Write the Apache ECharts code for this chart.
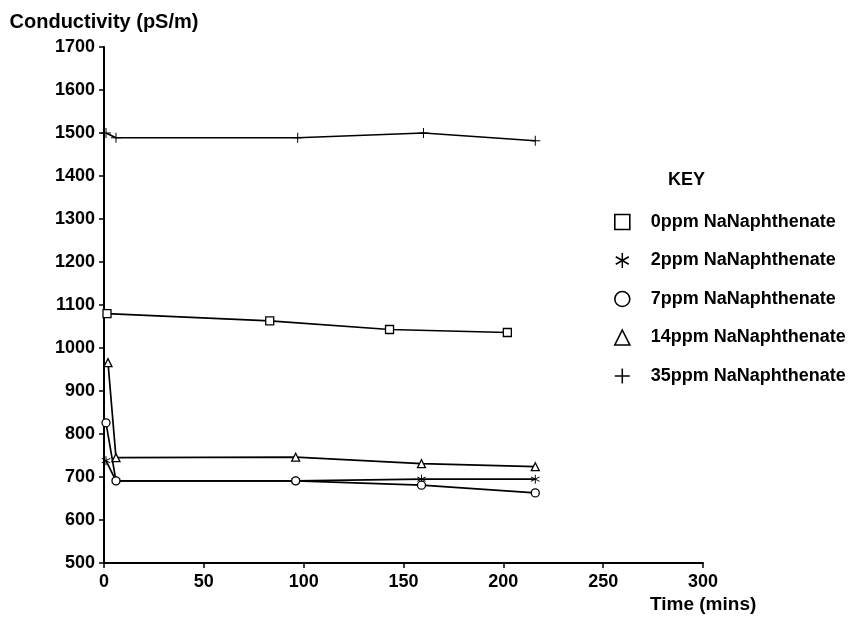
<!DOCTYPE html>
<html>
<head>
<meta charset="utf-8">
<style>
  html, body { margin: 0; padding: 0; background: #fff; }
  #chart { width: 853px; height: 622px; }
</style>
<script src="https://cdn.jsdelivr.net/npm/echarts@6/dist/echarts.min.js"></script>
</head>
<body>
<div id="chart"></div>
<script>
// 数据: 时间 (mins) 与电导率 (pS/m)
const seriesNames = [
  '0ppm NaNaphthenate',
  '2ppm NaNaphthenate',
  '7ppm NaNaphthenate',
  '14ppm NaNaphthenate',
  '35ppm NaNaphthenate'
];
const time0 = [1.5, 83, 143, 202];
const cond0 = [1080, 1063, 1043, 1036];
const time2 = [1, 6, 96, 159, 216];
const cond2 = [738, 691, 691, 695, 695];
const time7 = [1, 6, 96, 159, 216];
const cond7 = [826, 691, 691, 681, 663];
const time14 = [2, 6, 96, 159, 216];
const cond14 = [966, 745, 746, 731, 724];
const time35 = [1, 6, 97, 160, 216];
const cond35 = [1500, 1489, 1489, 1500, 1482];

const FONT = "'Liberation Sans', Arial, sans-serif";

// 符号: 星号和加号用填充路径画
const ASTERISK = 'path://M9,0H11V20H9Z' +
  'M1.8,4.13L19.2,14.13L18.2,15.87L0.8,5.87Z' +
  'M0.8,14.13L18.2,4.13L19.2,5.87L1.8,15.87Z';
const PLUS = 'path://M9,0H11V9H20V11H11V20H9V11H0V9H9Z';

const symbols = ['rect', ASTERISK, 'circle', 'triangle', PLUS];
const hollow = [true, false, true, true, false];
const markSize = [8, 9, 8, 8, 10];

function zip(xs, ys) {
  return xs.map((x, i) => [x, ys[i]]);
}
const allData = [
  zip(time0, cond0),
  zip(time2, cond2),
  zip(time7, cond7),
  zip(time14, cond14),
  zip(time35, cond35)
];

function markStyle(i) {
  return hollow[i]
    ? { color: '#fff', borderColor: '#000', borderWidth: 1.3 }
    : { color: '#000', borderWidth: 0 };
}

const chart = echarts.init(document.getElementById('chart'));

chart.setOption({
  animation: false,
  backgroundColor: '#fff',
  textStyle: { fontFamily: FONT, color: '#000' },
  title: {
    text: 'KEY',
    left: 663, top: 166,
    textStyle: { fontFamily: FONT, fontSize: 18, fontWeight: 'bold', color: '#000' }
  },
  legend: {
    orient: 'vertical',
    left: 609, top: 208,
    itemWidth: 15, itemHeight: 15,
    itemGap: 20.5,
    selectedMode: false,
    textStyle: { fontFamily: FONT, fontSize: 18, fontWeight: 'bold', color: '#000', padding: [0, 0, 0, 16] },
    data: seriesNames.map((n, i) => ({
      name: n,
      icon: symbols[i],
      itemStyle: hollow[i]
        ? { color: '#fff', borderColor: '#000', borderWidth: 1.6 }
        : { color: '#000', borderWidth: 0 }
    }))
  },
  grid: { left: 104, right: 150, top: 47, bottom: 59, containLabel: false, outerBoundsMode: 'none' },
  xAxis: {
    type: 'value',
    min: 0, max: 300, interval: 50,
    name: 'Time (mins)',
    nameLocation: 'end',
    nameGap: -53,
    nameTextStyle: {
      fontFamily: FONT, fontSize: 19, fontWeight: 'bold', color: '#000',
      verticalAlign: 'top', padding: [32, 0, 0, 0]
    },
    axisLine: { lineStyle: { color: '#000', width: 2 } },
    axisTick: { show: true, length: 5, lineStyle: { color: '#000', width: 1.5 } },
    axisLabel: { fontFamily: FONT, fontSize: 18, fontWeight: 'bold', color: '#000', margin: 10 },
    splitLine: { show: false }
  },
  yAxis: {
    type: 'value',
    min: 500, max: 1700, interval: 100,
    name: 'Conductivity (pS/m)',
    nameLocation: 'end',
    nameGap: 15,
    nameTextStyle: { fontFamily: FONT, fontSize: 20, fontWeight: 'bold', color: '#000', align: 'center' },
    axisLine: { show: true, lineStyle: { color: '#000', width: 2 } },
    axisTick: { show: true, length: 5, lineStyle: { color: '#000', width: 1.5 } },
    axisLabel: {
      fontFamily: FONT, fontSize: 18, fontWeight: 'bold', color: '#000', margin: 9,
      formatter: v => String(v)
    },
    splitLine: { show: false }
  },
  series: seriesNames.map((n, i) => ({
    name: n,
    type: 'line',
    data: allData[i],
    symbol: symbols[i],
    symbolSize: markSize[i],
    showAllSymbol: true,
    lineStyle: { color: '#000', width: 1.7 },
    itemStyle: markStyle(i),
    z: 2 + i
  }))
});
</script>
</body>
</html>
